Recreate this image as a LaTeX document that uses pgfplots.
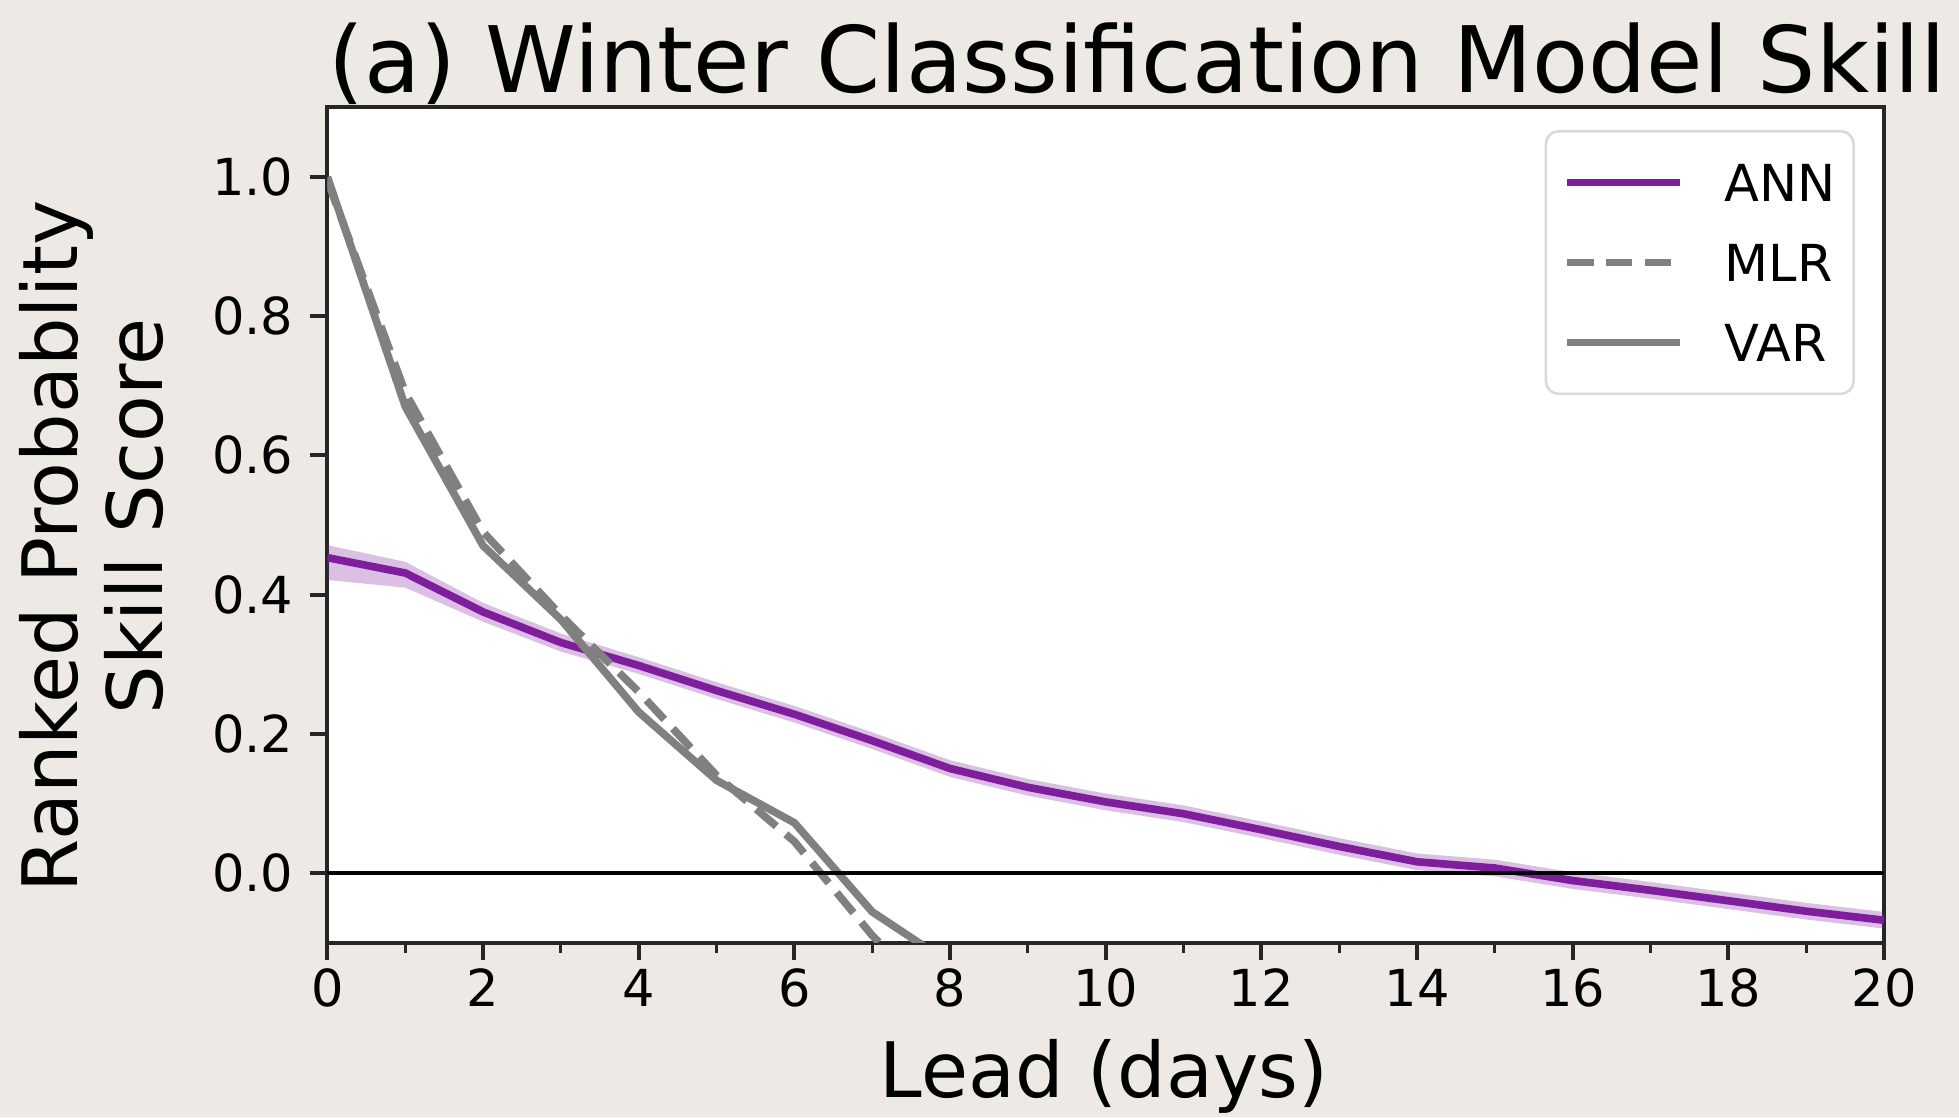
\documentclass[border=0pt]{standalone}
\usepackage{fontspec}
\setmainfont{DejaVu Sans}
\usepackage{pgfplots}
\usepackage{pgfplotstable}
\pgfplotsset{compat=1.18}

\definecolor{annpurple}{RGB}{126,30,156}
\definecolor{linegray}{RGB}{128,128,128}
\definecolor{paper}{RGB}{237,234,229}
\definecolor{framegray}{RGB}{38,38,38}

% ANN skill (ensemble mean)
\pgfplotstableread{
x    ann
0    0.453
1    0.431
2    0.375
3    0.331
4    0.298
5    0.262
6    0.228
7    0.190
8    0.150
9    0.123
10   0.102
11   0.085
12   0.062
13   0.038
14   0.016
15   0.007
16  -0.011
17  -0.025
18  -0.040
19  -0.055
20  -0.068
}\anndata

% outline of the ANN member spread: upper edge forward, lower edge back
\pgfplotstableread{
x    y
0    0.471
1    0.447
2    0.388
3    0.344
4    0.310
5    0.274
6    0.240
7    0.202
8    0.162
9    0.135
10   0.114
11   0.097
12   0.074
13   0.050
14   0.028
15   0.019
16   0.001
17  -0.013
18  -0.028
19  -0.043
20  -0.056
20  -0.080
19  -0.067
18  -0.052
17  -0.037
16  -0.023
15  -0.005
14   0.004
13   0.026
12   0.050
11   0.073
10   0.090
9    0.111
8    0.138
7    0.178
6    0.216
5    0.250
4    0.286
3    0.318
2    0.361
1    0.410
0    0.421
}\annspread

\pgfplotstableread{
x    mlr
0    0.995
1    0.690
2    0.490
3    0.370
4    0.260
5    0.140
6    0.045
7   -0.090
8   -0.200
}\mlrdata

\pgfplotstableread{
x    var
0    1.000
1    0.670
2    0.470
3    0.364
4    0.231
5    0.133
6    0.072
7   -0.056
8   -0.130
}\vardata

\begin{document}
\begin{tikzpicture}
\fill[paper] (-131pt,-69.8pt) rectangle (652.6pt,377pt);
\begin{axis}[
  at={(0pt,0pt)}, anchor=south west,
  scale only axis, width=622.6pt, height=334pt,
  xmin=0, xmax=20, ymin=-0.1, ymax=1.1,
  axis background/.style={fill=white},
  axis line style={framegray, line width=1.6pt},
  xtick={0,2,...,20}, minor xtick={1,3,...,19},
  ytick={0,0.2,0.4,0.6,0.8,1.0},
  yticklabel style={/pgf/number format/fixed, /pgf/number format/fixed zerofill,
    /pgf/number format/precision=1, xshift=-3pt},
  /pgf/number format/assume math mode=true,
  tick align=outside, xtick pos=bottom, ytick pos=left,
  major tick length=7.1pt, minor tick length=4.1pt,
  tick style={framegray},
  every major tick/.append style={line width=1.6pt},
  every minor tick/.append style={line width=1.2pt},
  ticklabel style={font=\fontsize{20.4}{24}\selectfont},
  legend style={at={(0.782,0.973)}, anchor=north west,
    draw=black!15, line width=1pt, rounded corners=5pt, fill=white,
    inner xsep=7pt, inner ysep=13pt, row sep=17pt, column sep=16.5pt,
    font=\fontsize{20.4}{24}\selectfont,
    nodes={inner sep=0pt, text height=15pt, text depth=0pt}},
  legend cell align=left,
  legend image code/.code={\draw[#1] (0pt,0pt) -- (45pt,0pt);},
]
  % spread of the ANN members
  \addplot[fill=annpurple, fill opacity=0.28, draw=none, forget plot]
    table[x=x, y=y] {\annspread} -- cycle;

  \addplot[annpurple, line width=3.06pt] table[x=x, y=ann] {\anndata};
  \addlegendentry{ANN}
  \addplot[linegray, line width=3.06pt, dash pattern=on 10.5pt off 5pt] table[x=x, y=mlr] {\mlrdata};
  \addlegendentry{MLR}
  \addplot[linegray, line width=3.06pt] table[x=x, y=var] {\vardata};
  \addlegendentry{VAR}

  % zero-skill reference
  \addplot[black, line width=1.5pt, forget plot] coordinates {(0,0) (20,0)};
\end{axis}

\node[anchor=base, font=\fontsize{36.7}{44}\selectfont] at (323.8pt,340pt)
  {(a) Winter Classification Model Skill};
\node[anchor=base, font=\fontsize{30.6}{36}\selectfont] at (310.6pt,-62pt)
  {Lead (days)};
\node[rotate=90, anchor=base, font=\fontsize{30.6}{36}\selectfont] at (-99.8pt,158.4pt)
  {Ranked Probablity};
\node[rotate=90, anchor=base, font=\fontsize{30.6}{36}\selectfont] at (-65.8pt,170.4pt)
  {Skill Score};

\pgfresetboundingbox
\path[use as bounding box] (-131pt,-69.8pt) rectangle (652.6pt,377pt);
\end{tikzpicture}
\end{document}
